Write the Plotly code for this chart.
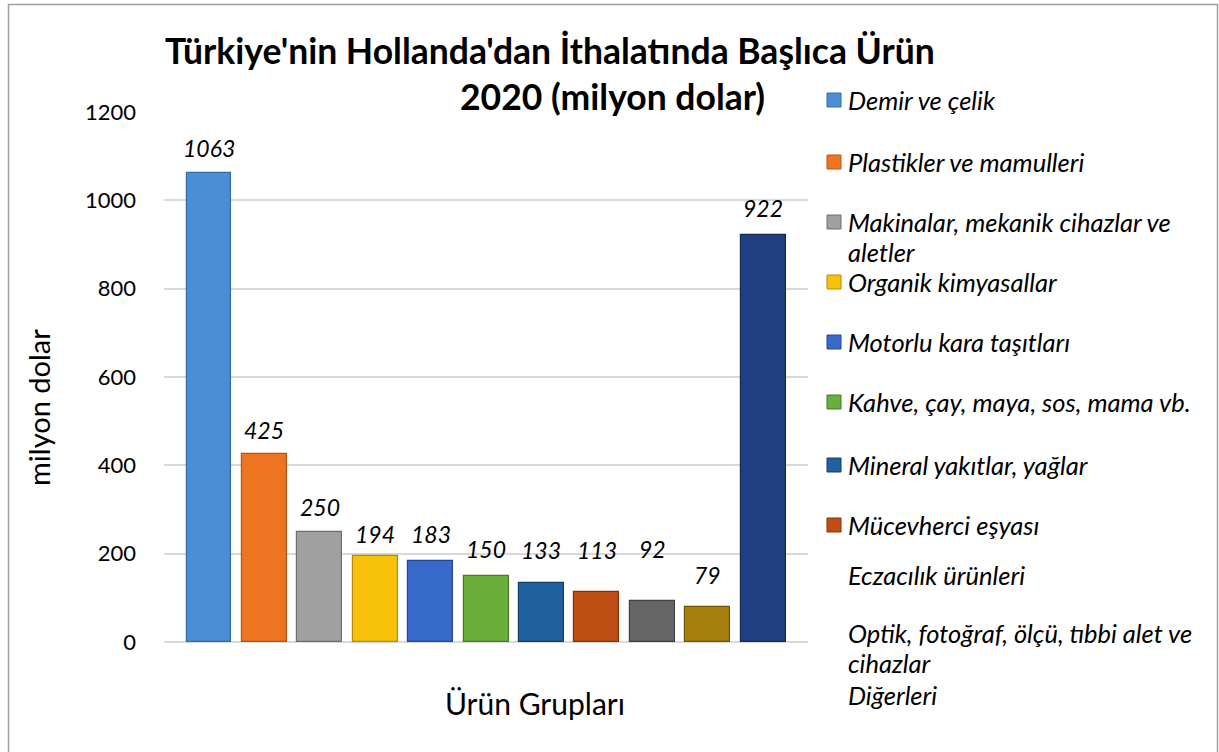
import plotly.graph_objects as go

# data
products = [
    "Demir ve çelik",
    "Plastikler ve mamulleri",
    "Makinalar, mekanik cihazlar ve aletler",
    "Organik kimyasallar",
    "Motorlu kara taşıtları",
    "Kahve, çay, maya, sos, mama vb.",
    "Mineral yakıtlar, yağlar",
    "Mücevherci eşyası",
    "Eczacılık ürünleri",
    "Optik, fotoğraf, ölçü, tıbbi alet ve cihazlar",
    "Diğerleri",
]
values = [1063, 425, 250, 194, 183, 150, 133, 113, 92, 79, 922]
y_ticks = [0, 200, 400, 600, 800, 1000, 1200]

colors = ["#4A8FD6", "#EE7422", "#A0A0A0", "#F9C20A", "#3669C9", "#6AAE3C",
          "#20609F", "#BD4F14", "#666666", "#A67F0D", "#213F80"]
edges = ["#2F6BA8", "#B5541A", "#6E6E6E", "#B88A00", "#22479A", "#467A25",
         "#143F6B", "#7E330C", "#404040", "#6E5306", "#14295A"]

# how far (px) each value label sits above its bar, as placed in the original
label_lift = [25, 24, 25, 22, 27, 27, 33, 42, 52, 32, 27]

# legend layout (pixel rows, wrapped lines)
legend_lines = [
    ["Demir ve çelik"],
    ["Plastikler ve mamulleri"],
    ["Makinalar, mekanik cihazlar ve", "aletler"],
    ["Organik kimyasallar"],
    ["Motorlu kara taşıtları"],
    ["Kahve, çay, maya, sos, mama vb."],
    ["Mineral yakıtlar, yağlar"],
    ["Mücevherci eşyası"],
    ["Eczacılık ürünleri"],
    ["Optik, fotoğraf, ölçü, tıbbi alet ve", "cihazlar"],
    ["Diğerleri"],
]
legend_rows = [100, 162, 222, 282, 342, 402, 465, 525, 575, 633, 695]
legend_with_marker = 8  # the last three entries show no swatch

FONT = "Lato"
W, H = 1219, 752
L, R, T, B = 164, 808, 112, 642


def px_x(px):
    return (px - L) / (R - L)


def px_y(py):
    return (B - py) / (B - T)


fig = go.Figure()

for i, (name, v) in enumerate(zip(products, values)):
    fig.add_trace(go.Bar(
        x=[i], y=[v], name=name, width=0.81,
        marker=dict(color=colors[i], line=dict(color=edges[i], width=1.2)),
        showlegend=False, hoverinfo="name+y",
    ))

annotations = []

# value labels above bars
for i, v in enumerate(values):
    annotations.append(dict(
        x=i, y=v, xref="x", yref="y", text=str(v), showarrow=False,
        yanchor="middle", yshift=label_lift[i],
        font=dict(family=FONT, size=23, color="black", style="italic"),
    ))

# title (two lines, placed like the original)
annotations.append(dict(
    x=px_x(550), y=px_y(50), xref="paper", yref="paper",
    text="<b>Türkiye'nin Hollanda'dan İthalatında Başlıca Ürün</b>",
    showarrow=False, xanchor="center", yanchor="middle",
    font=dict(family=FONT, size=35.5, color="black"),
))
annotations.append(dict(
    x=px_x(612), y=px_y(97), xref="paper", yref="paper",
    text="<b>2020 (milyon dolar)</b>",
    showarrow=False, xanchor="center", yanchor="middle",
    font=dict(family=FONT, size=35.5, color="black"),
))

# axis titles
annotations.append(dict(
    x=px_x(38), y=px_y(408), xref="paper", yref="paper",
    text="milyon dolar", textangle=-90, showarrow=False,
    xanchor="center", yanchor="middle",
    font=dict(family=FONT, size=29, color="black"),
))
annotations.append(dict(
    x=px_x(535), y=px_y(703), xref="paper", yref="paper",
    text="Ürün Grupları", showarrow=False,
    xanchor="center", yanchor="middle",
    font=dict(family=FONT, size=30, color="black"),
))

shapes = []

# legend
for k, lines in enumerate(legend_lines):
    for j, line in enumerate(lines):
        annotations.append(dict(
            x=px_x(846), y=px_y(legend_rows[k] + 30 * j),
            xref="paper", yref="paper", text=line, showarrow=False,
            xanchor="left", yanchor="middle",
            font=dict(family=FONT, size=25.5, color="black", style="italic"),
        ))
    if k < legend_with_marker:
        yc = legend_rows[k]
        shapes.append(dict(
            type="rect", xref="paper", yref="paper",
            x0=px_x(827), x1=px_x(841), y0=px_y(yc + 7), y1=px_y(yc - 7),
            fillcolor=colors[k], line=dict(color=edges[k], width=1),
        ))

# outer chart frame
shapes.append(dict(
    type="rect", xref="paper", yref="paper",
    x0=px_x(8.5), x1=px_x(1217.5), y0=px_y(790), y1=px_y(4.5),
    line=dict(color="#A0A0A0", width=1.5), fillcolor="rgba(0,0,0,0)",
    layer="below",
))

fig.update_layout(
    width=W, height=H,
    margin=dict(l=L, r=W - R, t=T, b=H - B, pad=0),
    paper_bgcolor="white", plot_bgcolor="white",
    showlegend=False, bargap=0,
    annotations=annotations, shapes=shapes,
    font=dict(family=FONT, color="black"),
)

fig.update_xaxes(
    range=[-0.812, 10.81], showticklabels=False, ticks="",
    showgrid=False, zeroline=False, showline=False,
)
fig.update_yaxes(
    range=[0, 1200], tickvals=y_ticks, ticks="",
    tickfont=dict(family=FONT, size=22, color="black"),
    ticklabelstandoff=27,
    showgrid=True, gridcolor="#D9D9D9", gridwidth=1.5,
    zeroline=True, zerolinecolor="#D9D9D9", zerolinewidth=1.5,
    showline=False,
)

# drop the default page margin so the chart sits at the window's top-left
fig.write_html(
    "out.html",
    config={"displayModeBar": False},
    post_script="document.body.style.margin='0';",
)
